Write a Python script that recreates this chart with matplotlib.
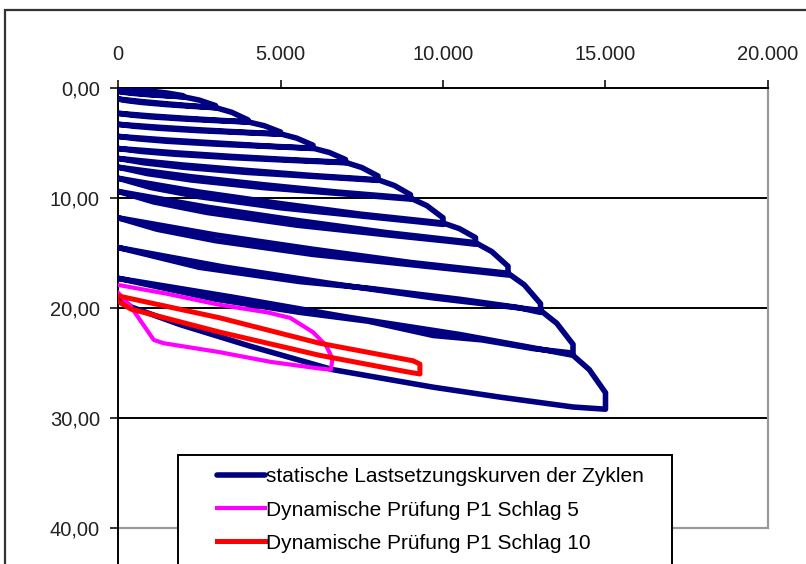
import matplotlib
matplotlib.use("Agg")
import matplotlib.pyplot as plt
from matplotlib.patches import Rectangle
from matplotlib.lines import Line2D
from matplotlib.ticker import FuncFormatter, FixedLocator

plt.rcParams['font.family'] = ['Liberation Sans', 'DejaVu Sans']

# ---- data -------------------------------------------------------------
# static load-settlement cycles (load, settlement) as one continuous series
static_load = [
    0, 500, 1000, 1000, 920, 750, 500, 250, 100, 0,
    250, 500, 750, 1000, 1500, 2000, 2000, 1840, 1500, 1000, 500, 200, 0,
    500, 1000, 1500, 2000, 2500, 3000, 3000, 2760, 2250, 1500, 750, 300, 0,
    750, 1500, 2250, 3000, 3500, 4000, 4000, 3680, 3000, 2000, 1000, 400, 0,
    1000, 2000, 3000, 4000, 4500, 5000, 5000, 4600, 3750, 2500, 1250, 500, 0,
    1250, 2500, 3750, 5000, 5500, 6000, 6000, 5520, 4500, 3000, 1500, 600, 0,
    1500, 3000, 4500, 6000, 6500, 7000, 7000, 6440, 5250, 3500, 1750, 700, 0,
    1750, 3500, 5250, 7000, 7500, 8000, 8000, 7360, 6000, 4000, 2000, 800, 0,
    2000, 4000, 6000, 8000, 8500, 9000, 9000, 8280, 6750, 4500, 2250, 900, 0,
    2250, 4500, 6750, 9000, 9500, 10000, 10000, 9200, 7500, 5000, 2500, 1000, 0,
    2500, 5000, 7500, 10000, 10500, 11000, 11000, 10120, 8250, 5500, 2750, 1100, 0,
    2750, 5500, 8250, 11000, 11500, 12000, 12000, 11040, 9000, 6000, 3000, 1200, 0,
    3000, 6000, 9000, 12000, 12500, 13000, 13000, 12300, 10500, 7700, 5600, 2500, 0,
    3250, 6500, 9750, 13000, 13500, 14000, 14000, 12800, 11200, 9700, 7700, 5600, 3000, 0,
    3500, 7000, 10500, 13100, 14000, 14500, 15000, 15000, 14000, 11750, 9700, 6600, 4100, 1900, 400, 0,
]
static_settle = [
    0.00, 0.10, 0.25, 0.30, 0.29, 0.26, 0.23, 0.18, 0.14, 0.10,
    0.16, 0.21, 0.26, 0.29, 0.45, 0.70, 0.80, 0.77, 0.71, 0.62, 0.50, 0.40, 0.30,
    0.45, 0.58, 0.69, 0.79, 1.10, 1.60, 1.80, 1.75, 1.66, 1.51, 1.32, 1.16, 1.00,
    1.24, 1.44, 1.62, 1.78, 2.21, 2.90, 3.10, 3.05, 2.96, 2.81, 2.62, 2.46, 2.30,
    2.54, 2.74, 2.92, 3.08, 3.43, 4.00, 4.20, 4.15, 4.04, 3.88, 3.66, 3.48, 3.30,
    3.57, 3.80, 4.00, 4.17, 4.56, 5.20, 5.50, 5.43, 5.30, 5.10, 4.84, 4.62, 4.40,
    4.73, 5.00, 5.26, 5.47, 5.86, 6.50, 6.80, 6.72, 6.57, 6.33, 6.02, 5.76, 5.50,
    5.89, 6.22, 6.51, 6.76, 7.23, 8.00, 8.40, 8.28, 8.04, 7.68, 7.20, 6.80, 6.40,
    7.00, 7.50, 7.96, 8.34, 8.86, 9.70, 10.10, 9.93, 9.58, 9.06, 8.36, 7.78, 7.20,
    8.07, 8.80, 9.46, 10.01, 10.69, 11.80, 12.40, 12.15, 11.64, 10.89, 9.88, 9.04, 8.20,
    9.46, 10.51, 11.48, 12.27, 12.78, 13.60, 14.20, 13.91, 13.34, 12.47, 11.32, 10.36, 9.40,
    10.84, 12.04, 13.14, 14.06, 14.87, 16.20, 17.00, 16.69, 16.06, 15.13, 13.88, 12.84, 11.80,
    13.36, 14.66, 15.86, 16.84, 17.89, 19.60, 20.40, 19.95, 19.20, 18.20, 17.60, 16.30, 14.50,
    16.27, 17.75, 19.10, 20.22, 21.39, 23.30, 24.10, 23.70, 22.90, 22.50, 21.20, 20.40, 19.20, 17.30,
    19.00, 20.80, 22.40, 23.80, 24.30, 25.60, 27.70, 29.20, 29.00, 28.10, 27.20, 25.60, 23.50, 21.50, 19.90, 19.00,
]

# dynamic test P1, blow 5
dyn5_load = [0, 1500, 3100, 4600, 5300, 6000, 6400, 6600, 6550, 6200, 4700, 3100, 1400, 1100, 400, 0]
dyn5_settle = [17.9, 18.7, 19.7, 20.4, 20.9, 22.2, 23.4, 24.6, 25.6, 25.5, 24.9, 24.0, 23.2, 22.9, 19.9, 18.6]

# dynamic test P1, blow 10
dyn10_load = [0, 3140, 6200, 9080, 9290, 9290, 8890, 6200, 3140, 400, 0]
dyn10_settle = [18.9, 20.9, 23.2, 24.8, 25.1, 26.0, 25.8, 24.3, 22.2, 20.1, 19.4]

labels = ["statische Lastsetzungskurven der Zyklen",
          "Dynamische Prüfung P1 Schlag 5",
          "Dynamische Prüfung P1 Schlag 10"]
x_ticks = [0, 5000, 10000, 15000, 20000]
y_ticks = [0, 10, 20, 30, 40]

# ---- figure -----------------------------------------------------------
W, H = 806, 564
fig = plt.figure(figsize=(W / 100, H / 100), dpi=100)
fig.patch.set_facecolor('white')

L, R, T, B = 118, 768, 88, 528
ax = fig.add_axes([L / W, 1 - B / H, (R - L) / W, (B - T) / H])

c_blue, c_pink, c_red = '#000080', '#FF00FF', '#FF0000'
l1, = ax.plot(static_load, static_settle, color=c_blue, lw=4.0,
              solid_joinstyle='round', solid_capstyle='round', zorder=3)
l2, = ax.plot(dyn5_load, dyn5_settle, color=c_pink, lw=3.0,
              solid_joinstyle='round', zorder=4)
l3, = ax.plot(dyn10_load, dyn10_settle, color=c_red, lw=3.6,
              solid_joinstyle='round', zorder=5)

ax.set_xlim(0, 20000)
ax.set_ylim(40, 0)
ax.xaxis.set_major_locator(FixedLocator(x_ticks))
ax.yaxis.set_major_locator(FixedLocator(y_ticks))
ax.xaxis.tick_top()
ax.xaxis.set_major_formatter(FuncFormatter(lambda v, p: f"{int(v):,}".replace(',', '.')))
ax.yaxis.set_major_formatter(FuncFormatter(lambda v, p: f"{v:.2f}".replace('.', ',')))
ax.tick_params(axis='x', direction='out', length=6, width=1.3, pad=11, labelsize=14.5, colors='#222222')
ax.tick_params(axis='y', direction='out', length=6, width=1.3, pad=7, labelsize=14.5, colors='#222222')

for yv in [10, 20, 30]:
    ax.axhline(yv, color='black', lw=1.4, zorder=1)

ax.spines['top'].set_linewidth(1.4)
ax.spines['left'].set_linewidth(1.4)
ax.spines['right'].set_color('#999999')
ax.spines['bottom'].set_color('#999999')
ax.spines['right'].set_linewidth(1.6)
ax.spines['bottom'].set_linewidth(1.6)

# value axis line continues below the last tick to the image edge
fig.lines.append(Line2D([L / W, L / W], [1 - B / H, -0.05], transform=fig.transFigure,
                        color='black', lw=1.4))

# outer chart border (extends beyond the visible image)
fig.patches.append(Rectangle((5 / W, -0.2), 1.2, 1 - 10 / H + 0.2, transform=fig.transFigure,
                             fill=False, edgecolor='#333333', lw=1.6))

# legend box (cut off at the bottom of the image)
fig.patches.append(Rectangle((178 / W, -0.2), (672 - 178) / W, 1 - 455 / H + 0.2,
                             transform=fig.transFigure, facecolor='white',
                             edgecolor='black', lw=1.4, zorder=10))
leg = fig.legend([l1, l2, l3], labels, loc='upper left',
                 bbox_to_anchor=(207 / W, 1 - 457 / H), bbox_transform=fig.transFigure,
                 frameon=False, borderpad=0, handlelength=2.3, handletextpad=0.05,
                 labelspacing=0.68, fontsize=15)
leg.set_zorder(11)

fig.savefig('out.png', dpi=100)
